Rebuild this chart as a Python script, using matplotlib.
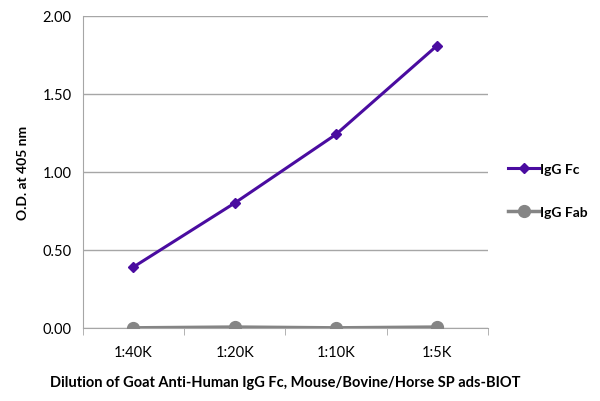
import matplotlib
matplotlib.use("Agg")
import matplotlib.pyplot as plt
import numpy as np

# dilution categories and O.D. readings
dilutions = ["1:40K", "1:20K", "1:10K", "1:5K"]
igg_fc = [0.39, 0.80, 1.24, 1.81]
igg_fab = [0.00, 0.005, 0.00, 0.005]

plt.rcParams['font.family'] = ['Lato', 'DejaVu Sans']

fig = plt.figure(figsize=(6, 4.02), dpi=100)
ax = fig.add_axes([0.138, 0.182, 0.675, 0.776])

x = np.arange(len(dilutions))
grid_col = '#a6a6a6'

ax.plot(x, igg_fc, color='#4a0ca0', lw=2.2, marker='D', ms=5.5,
        label='IgG Fc', zorder=4)
ax.plot(x, igg_fab, color='#858585', lw=2.5, marker='o', ms=8.5,
        label='IgG Fab', zorder=3)

ax.set_xlim(-0.5, 3.5)
ax.set_ylim(0, 2.0)
ax.set_yticks([0, 0.5, 1.0, 1.5, 2.0])
ax.set_yticklabels([f"{v:.2f}" for v in [0, 0.5, 1.0, 1.5, 2.0]])
ax.yaxis.grid(True, color=grid_col, lw=1)
ax.set_axisbelow(True)

ax.set_xticks(x)
ax.set_xticklabels(dilutions)
ax.set_xticks(np.arange(-0.5, 4, 1), minor=True)
ax.tick_params(axis='x', which='major', length=0, pad=12, labelsize=10.5)
ax.tick_params(axis='x', which='minor', length=5, color=grid_col)
ax.tick_params(axis='y', length=0, pad=8, labelsize=10.5)

for s in ['top', 'right']:
    ax.spines[s].set_visible(False)
ax.spines['left'].set_color(grid_col)
ax.spines['bottom'].set_color(grid_col)

ax.set_ylabel('O.D. at 405 nm', fontweight='bold', fontsize=10, labelpad=10)
ax.set_xlabel('Dilution of Goat Anti-Human IgG Fc, Mouse/Bovine/Horse SP ads-BIOT',
              fontweight='bold', fontsize=10.5, labelpad=12)

leg = ax.legend(loc='center left', bbox_to_anchor=(1.02, 0.44), frameon=False,
                prop={'weight': 'bold', 'size': 10}, handlelength=2.2,
                handletextpad=0.1, labelspacing=2.2)

fig.savefig('out.png', dpi=100)
